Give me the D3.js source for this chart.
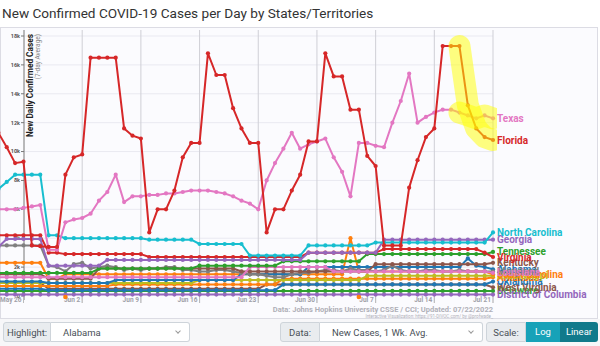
<!DOCTYPE html>
<html>
<head>
<meta charset="utf-8">
<script src="https://cdn.jsdelivr.net/npm/d3@7"></script>
<style>
  body { margin: 0; background: #fff; font-family: Roboto, "Noto Sans", sans-serif; width: 600px; height: 346px; overflow: hidden; position: relative; }
  #chart { position: absolute; left: 0; top: 0; }
  #controls { position: absolute; left: 0; top: 319px; width: 600px; height: 27px; background: #f7f7f9; }
  .box { position: absolute; top: 3px; height: 20px; line-height: 20px; font-size: 9.5px; color: #495057; box-sizing: border-box; white-space: nowrap; }
  .pre { background: #e9ecef; border: 1px solid #ced4da; border-radius: 3px 0 0 3px; text-align: center; }
  .sel { background: #fff; border: 1px solid #ced4da; border-left: none; border-radius: 0 3px 3px 0; padding-left: 12px; }
  .chev { position: absolute; right: 9px; top: 6px; width: 3px; height: 3px; border-right: 1px solid #999; border-bottom: 1px solid #999; transform: rotate(45deg); }
  .btn { color: #fff; text-align: center; }
  .log { background: #17a2b8; }
  .lin { background: #117a8b; border-radius: 0 3px 3px 0; }
</style>
</head>
<body>
<div id="chart"></div>
<div id="controls">
  <div class="box pre" style="left:3px;width:48px">Highlight:</div>
  <div class="box sel" style="left:51px;width:139px">Alabama<span class="chev"></span></div>
  <div class="box pre" style="left:280px;width:40px">Data:</div>
  <div class="box sel" style="left:320px;width:163px">New Cases, 1 Wk. Avg.<span class="chev"></span></div>
  <div class="box pre" style="left:486px;width:40px">Scale:</div>
  <div class="box btn log" style="left:526px;width:34px">Log</div>
  <div class="box btn lin" style="left:560px;width:38px">Linear</div>
</div>
<script>
// 7-day average new cases, one value per day from May 23 to Jul 21, 2022
const florida = [11300,10300,9200,9300, 3500,3450,3400,3400, 8400,9600,9800,
  16500,16500,16500,16500, 11600,11100,10900, 4400,6000,6000, 7300,9600,10600,10600,
  16800,15300,15300,13000,11600,10600,10600, 4400,6000,6000,7300,8400,10700,10700,
  16800,15200,15200,12900,12900,9700,9000, 3500,3500,3500,7500,9400,11000,11600,
  17300,17300,17300,13200,11600,11000,10800];
const texas = [6000,6000,6000,6100,6200,6300, 3200,3200,
  5100,5300,5400,5700,6600,7200,8400,
  6500,6900,6900,7000,7000,7100,7100,7200,7300,7300,7300,7200,7100,6900,6600,6400,6000,
  8000,9200,10200,11300,10200,10500,10700,10900,9600,8600,6900,
  10600,10600,10400,10300,12000,13500,15400,12000,12400,12700,
  12900,12900,12700,12500,12300,12500,12300];
const northCarolina = [7400,7900,8400,8400,8400,8400, 4200,4200,
  4000,4000,4000,4000,4000,4000,4000,4000,4000,4000,
  3900,3900,3900,3900,3900,3900, 3600,3600,3600,3600,3600,3600,
  2800,2800,2800,2800,2800,2800,2800, 3500,3500,3500,3500,3500,3500,3500,3500,
  3700,3700,3700,3700,3700,3700,3700,3700,3700,3700,3700,3700,3700,3700, 4400];
const georgia = [3400, 3950,3950,3950,3950,3950, 2100,2100,2100,2100,2100,2100,2100,
  2500,2500,2500,2500,2500,2500,2500,2500,2500,2500,2500,2500,
  2500,2500,2500,2500,2500,2500,2500,2500,2500,2500,2500,2500,
  3000,3000,3000,3000,3000,3000,3000,3000,3000,
  3900,3900,3900,3900,3900,3900,3900,3900,3900,3900,3900,3900,3900,3900];
const virginia = [4200,4200,4200,4200,4200,4200, 3000,3000,
  2900,2900,2900,2900,2900,2900,2900,2900,2900,2900,
  2700,2700,2700,2700,2700,2700,2700,2700,2700,2700,2700,2700,2700,2700,2700,2700,2700,2700,2700,
  3000,3000,3000,3000,3000,3000,3000,3000,3000,
  3250,3250,3250,3250,3250,3250,3250,3250,3250,3250,3250,3250, 3000,2700];
const tennessee = [1600,1600,1600,1600,1600,1600,1600,1600,1600,1600,1600,1600,
  1900,1900,1900,1900,1900,1900,1900,1900,1900,1900,1900,1900,
  2100,2100,2100,2100,2100,2100,2100,2100,2100,2100,
  2400,2400,2400,2400,2400,2400,2400,2400,2400,2400,
  2900,2900,2900,2900,2900,2900,2900,2900,2900,2900,2900,2900,2900,2900,2900, 3050];
const louisiana = [1300,1300,1300,1300,1300,1300,1300,1300,1300,1300,
  1300,1300,1300,1300,1300,1300,1300,1300,1300,1300,
  1300,1300,1300,1300,1300,1300,1300,1300,1300,1300,
  2000,2000,2000,2000,2000,2000,2000,2000,2000,2000,
  1700,1700,1700,1700,1700,1700,1700,1700,1700,1700,
  1700,1700,1700,1700,1700,1700,1700,1700,1700,1600];
const kentucky = [1500,1500,1500,1500,1500,1500, 1200,1200,1200,1200,1200,1200,
  1900,1900,1900,1900,1900,1900,1900,1900,1900,1900,1900,1900,1900,1900,1900,1900,1900,
  1700,1700,1700,1700,1700,1700,1700,1700,1700,1700,1700,1700,1700,1700,1700,1700,
  2200,2200,2200,2200,2200,2200,2200,2200,2200,2200,2200,2200,2200,2200, 2300];
const maryland = [3500,3500,3500,3500,3500,3500, 2100,2000,
  1700,2200,2300,1900,2000,2100,2000,1800,1900,1800,
  1900,1900,2000,2000,1800,1800,1700,1700,1800,1800,1700,1600,1500,1500,1400,1300,1300,1500,1600,1600,1700,
  1800,1800,1700,1900,1800,1800,1700,1800,2100,1800,1700,1700,1800,1800,1700,1700,1800,1700,1700,1700,1700];
const alabama = [1000,1000,1000,1000,1000,1000, 900,900,900,900,900,900,900,900,
  1100,1100,1100,1100,1100,1100,1100,1100,1100,1100,1100,1100,1100,1100,1100,
  1500,1500,1500,1500,1500,1500,1500,1500,
  2000,2000,2000,2000,2000,2000,2000,2000,2000,2000,2000,2000,2000,2000,2000,2000,2000,2000,2000,
  2600,2100,2000,1850];
const southCarolina = [2300,2300,2300,2300,2300,2300, 1200,1200,
  1500,1500,1500,1500,1500,1500,1500,1500,1500,1500,1500,1500,1500,1500,1500,1500,1500,
  1500,1500,1500,1500,1500,1500,1500,1500,1500,1500,1500,1500,1500,1500,1500,1500,1500,
  4000, 1700,1700,1700,1700,1700,1700,1700,1700,1700,1700,1700,1700,1700,1700,1700,1700, 1500];
const arkansas = [700,700,700,700,700,700,700,700,700,700,700,700,700,700,
  800,800,800,800,800,800,800,800,800,800,800,800,800,800,800,800,800,800,800,800,
  1200,1200,1200,1200,1200,1200,1200,1200,1200,1200,1200,1200,1200,
  1200,1200,1200,1200,1200,1200,1200,1200,1200,1200,1200,1200, 1300];
const mississippi = [900,900,900,900,900,900,900,900,900,900,900,900,
  900,900,900,900,900,900,900,900,900,900,900,900,
  1100,1100,1100,1100,1100,1100,1100,1100,1100,1100,1100,1100,1100,1100,1100,1100,1100,1100,1100,1100,
  1400,1400,1400,1400,1400,1400,1400,1400,1400,1400,1400,1400,1400,1400,1400,1400];
const oklahoma = [500,500,500,500,500,500,
  400,400,400,400,400,400,400,400,400,400,400,400,400,400,
  400,400,400,400,400,400,400,400,400,400,400,400,400,400,
  800,800,800,800,800,800,800,800,800,800,800,800,800,
  800,800,800,800,800,800,800,800,800,800,800,800, 1000];
const westVirginia = [900,900,900,900,900,900,
  500,500,500,500,500,500,500,500,500,500,500,500,500,
  500,500,500,500,500,500,500,500,500,500,500,500,500,
  800,800,800,800,800,800,800,800,800,800,800,800,800,800,
  800,800,800,800,800,800,800,800,800,800,800,800,800, 600];
const delaware = [350,350,350,350,350,350,350,350,350,350,350,350,350,350,350,
  350,350,350,350,350,350,350,350,350,350,350,350,350,350,350,
  350,350,350,350,350,350,350,350,350,350,350,350,350,350,350,
  350,350,350,350,350,350,350,350,350,350,350,350,350,350,350];
const districtOfColumbia = [100,100,100,100,100,100,100,100,100,100,100,100,100,100,100,
  100,100,100,100,100,100,100,100,100,100,100,100,100,100,100,
  100,100,100,100,100,100,100,100,100,100,100,100,100,100,100,
  100,100,100,100,100,100,100,100,100,100,100,100,100,100,100];

// drawing order: back to front
const stateNames = ["Delaware","District of Columbia","West Virginia","Oklahoma","Arkansas",
  "Mississippi","South Carolina","Alabama","Maryland","Kentucky","Louisiana","Tennessee",
  "Virginia","Georgia","North Carolina","Texas","Florida"];
const stateSeries = [delaware, districtOfColumbia, westVirginia, oklahoma, arkansas,
  mississippi, southCarolina, alabama, maryland, kentucky, louisiana, tennessee,
  virginia, georgia, northCarolina, texas, florida];
const stateColors = ["#2ca02c","#9467bd","#8c564b","#1f77b4","#ff7f0e",
  "#bcbd22","#ff7f0e","#1f77b4","#7f7f7f","#8c564b","#e377c2","#2ca02c",
  "#d62728","#9467bd","#17becf","#e377c2","#d62728"];
const highlighted = ["Texas","Florida"];
const highlightFrom = new Date(2022, 6, 17);
const noteDates = [new Date(2022, 4, 31), new Date(2022, 6, 5)];

const dates = d3.timeDay.range(new Date(2022, 4, 23), new Date(2022, 6, 22));
const tickDates = d3.timeDay.range(new Date(2022, 4, 26), new Date(2022, 6, 22), 7);
const yTicks = [0,2000,4000,6000,8000,10000,12000,14000,16000,18000];

const width = 600, height = 319;
const svg = d3.select("#chart").append("svg")
  .attr("width", width)
  .attr("height", height)
  .style("font-family", "Roboto, 'Noto Sans', sans-serif");

const x = d3.scaleTime()
  .domain([new Date(2022, 4, 26), new Date(2022, 6, 21)])
  .range([23.5, 493]);
const y = d3.scaleLinear()
  .domain([0, 18000])
  .range([296, 36]);

// title
svg.append("text")
  .attr("x", 2).attr("y", 18)
  .attr("font-size", 13.6).attr("fill", "#333")
  .text("New Confirmed COVID-19 Cases per Day by States/Territories");

// panel
svg.append("rect")
  .attr("x", 0.5).attr("y", 27.5).attr("width", 597).attr("height", 291)
  .attr("fill", "#fbfbfe").attr("stroke", "#dcdce4");

// grid
svg.append("g").selectAll("line").data(yTicks.slice(1)).enter().append("line")
  .attr("x1", 24).attr("x2", 493)
  .attr("y1", d => y(d)).attr("y2", d => y(d))
  .attr("stroke", "#e9e9f1");
svg.append("g").selectAll("line").data(tickDates.slice(1)).enter().append("line")
  .attr("x1", d => x(d)).attr("x2", d => x(d))
  .attr("y1", 30).attr("y2", 303)
  .attr("stroke", "#cfcfd6");

// y axis
const yAxis = svg.append("g");
yAxis.append("line").attr("x1", 24).attr("x2", 24).attr("y1", 30).attr("y2", 300).attr("stroke", "#777");
yAxis.selectAll(".tk").data(yTicks).enter().append("line")
  .attr("x1", 21).attr("x2", 24).attr("y1", d => y(d)).attr("y2", d => y(d)).attr("stroke", "#777");
yAxis.selectAll("text").data(yTicks).enter().append("text")
  .attr("x", 20).attr("y", d => y(d)).attr("dy", "0.35em")
  .attr("text-anchor", "end").attr("font-size", 5.5).attr("font-weight", "bold").attr("fill", "#555")
  .text(d => d === 0 ? "0" : d3.format("~s")(d));
svg.append("text")
  .attr("transform", "translate(33,34) rotate(-90)")
  .attr("text-anchor", "end").attr("font-size", 8.3).attr("font-weight", "bold").attr("fill", "#222")
  .text("New Daily Confirmed Cases");
svg.append("text")
  .attr("transform", "translate(40,34) rotate(-90)")
  .attr("text-anchor", "end").attr("font-size", 6.5).attr("fill", "#888")
  .text("(7-day Average)");

// x axis
const xAxis = svg.append("g");
xAxis.selectAll("line").data(tickDates).enter().append("line")
  .attr("x1", d => x(d)).attr("x2", d => x(d)).attr("y1", 296).attr("y2", 303).attr("stroke", "#bbb");
xAxis.selectAll("text").data(tickDates).enter().append("text")
  .attr("x", d => x(d) - 2).attr("y", 302)
  .attr("text-anchor", "end").attr("font-size", 6.5).attr("font-weight", "bold").attr("fill", "#a0a0a8")
  .text(d3.timeFormat("%b %-d"));

// lines
const clip = svg.append("clipPath").attr("id", "plotclip")
  .append("rect").attr("x", 0).attr("y", 28).attr("width", 497).attr("height", 275);
const plot = svg.append("g").attr("clip-path", "url(#plotclip)");
const line = d3.line().x((d, i) => x(dates[i])).y(d => y(d));

stateNames.forEach((name, k) => {
  const vals = stateSeries[k];
  const g = plot.append("g");
  g.append("path").attr("d", line(vals))
    .attr("fill", "none").attr("stroke", stateColors[k]).attr("stroke-width", 2)
    .attr("stroke-linejoin", "round");
  g.selectAll("circle").data(vals).enter().append("circle")
    .attr("cx", (d, i) => x(dates[i])).attr("cy", d => y(d)).attr("r", 2.1)
    .attr("fill", stateColors[k]);
});

// highlight of recent week
stateNames.forEach((name, k) => {
  if (highlighted.indexOf(name) < 0) return;
  const vals = stateSeries[k];
  const idx = d3.range(vals.length).filter(i => dates[i] >= highlightFrom);
  plot.append("path")
    .attr("d", d3.line().x(i => x(dates[i])).y(i => y(vals[i]))(idx))
    .attr("fill", "none").attr("stroke", "#ffff00").attr("stroke-opacity", 0.5)
    .attr("stroke-width", 22).attr("stroke-linecap", "round").attr("stroke-linejoin", "round");
});

// notes on the axis
svg.append("g").selectAll("circle").data(noteDates).enter().append("circle")
  .attr("cx", d => x(d)).attr("cy", 297).attr("r", 2.3).attr("fill", "#ff7f0e");

// end labels
svg.append("g").selectAll("text").data(stateNames).enter().append("text")
  .attr("x", 497)
  .attr("y", (d, k) => y(stateSeries[k][stateSeries[k].length - 1]))
  .attr("dy", "0.35em")
  .attr("font-size", 10).attr("font-weight", "bold")
  .attr("fill", (d, k) => stateColors[k])
  .text(d => d);

// source
svg.append("text")
  .attr("x", 493).attr("y", 312).attr("text-anchor", "end")
  .attr("font-size", 7.5).attr("font-weight", "bold").attr("fill", "#b0b0b8")
  .text("Data: Johns Hopkins University CSSE / CCI; Updated: 07/22/2022");
svg.append("text")
  .attr("x", 493).attr("y", 318).attr("text-anchor", "end")
  .attr("font-size", 4.5).attr("fill", "#b0b0b8")
  .text("Interactive Visualization: https://91-DIVOC.com/ by @profwade_");
</script>
</body>
</html>
